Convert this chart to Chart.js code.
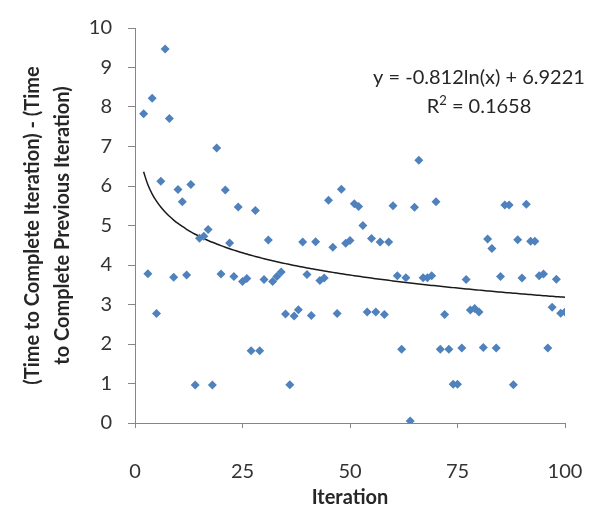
<!DOCTYPE html>
<html>
<head>
<meta charset="utf-8">
<title>Iteration time difference</title>
<script src="https://cdn.jsdelivr.net/npm/chart.js@4.4.1/dist/chart.umd.min.js"></script>
<style>
    html, body { margin: 0; padding: 0; background: #fff; }
    #wrap { width: 602px; height: 521px; }
</style>
</head>
<body>
<div id="wrap"><canvas id="chart" width="602" height="521"></canvas></div>
<script>
// Data
const iterations = [
    2, 3, 4, 5, 6, 7, 8, 9, 10, 11, 12, 13, 14, 15, 16, 17, 18, 19, 20, 21,
    22, 23, 24, 25, 26, 27, 28, 29, 30, 31, 32, 33, 34, 35, 36, 37, 38, 39, 40, 41,
    42, 43, 44, 45, 46, 47, 48, 49, 50, 51, 52, 53, 54, 55, 56, 57, 58, 59, 60, 61,
    62, 63, 64, 65, 66, 67, 68, 69, 70, 71, 72, 73, 74, 75, 76, 77, 78, 79, 80, 81,
    82, 83, 84, 85, 86, 87, 88, 89, 90, 91, 92, 93, 94, 95, 96, 97, 98, 99, 100
];
const timeDiff = [
    7.83, 3.78, 8.22, 2.77, 6.12, 9.47, 7.71, 3.69, 5.91, 5.60, 3.75, 6.04, 0.96, 4.68, 4.73, 4.90, 0.96, 6.96, 3.77, 5.90,
    4.56, 3.71, 5.47, 3.58, 3.66, 1.83, 5.38, 1.83, 3.63, 4.63, 3.58, 3.71, 3.82, 2.76, 0.97, 2.71, 2.87, 4.58, 3.76, 2.72,
    4.59, 3.61, 3.67, 5.64, 4.45, 2.77, 5.92, 4.55, 4.62, 5.55, 5.48, 5.00, 2.81, 4.67, 2.81, 4.58, 2.75, 4.58, 5.50, 3.73,
    1.87, 3.68, 0.05, 5.46, 6.65, 3.68, 3.68, 3.73, 5.60, 1.87, 2.75, 1.87, 0.98, 0.98, 1.90, 3.63, 2.86, 2.90, 2.81, 1.91,
    4.66, 4.42, 1.90, 3.71, 5.52, 5.52, 0.97, 4.64, 3.67, 5.54, 4.60, 4.60, 3.73, 3.77, 1.90, 2.93, 3.64, 2.78, 2.81
];
const xTicks = [0, 25, 50, 75, 100];
const yTicks = [0, 1, 2, 3, 4, 5, 6, 7, 8, 9, 10];

// Logarithmic trendline as printed on the chart
const trendA = -0.812;
const trendB = 6.9221;
const equationText = 'y = -0.812ln(x) + 6.9221';
const rSquaredParts = ['R', '2', ' = 0.1658'];

const points = iterations.map((x, i) => ({ x: x, y: timeDiff[i] }));
const trend = iterations.map(x => ({ x: x, y: trendA * Math.log(x) + trendB }));

const axisGrey = '#868686';
const fontFamily = 'Lato, "Open Sans", sans-serif';

// draws the trendline equation and R squared
const equationPlugin = {
    id: 'equation',
    afterDatasetsDraw(chart) {
        const ctx = chart.ctx;
        const x = chart.scales.x.getPixelForValue(80);
        const y = chart.scales.y.getPixelForValue(8.74);
        const big = '20px ' + fontFamily;
        const small = '13px ' + fontFamily;
        ctx.save();
        ctx.fillStyle = '#262626';
        ctx.textBaseline = 'middle';
        ctx.font = big;
        ctx.textAlign = 'center';
        ctx.fillText(equationText, x, y);

        // second line: R, superscript 2, rest
        const y2 = y + 29;
        const wR = ctx.measureText(rSquaredParts[0]).width;
        const wRest = ctx.measureText(rSquaredParts[2]).width;
        ctx.font = small;
        const w2 = ctx.measureText(rSquaredParts[1]).width;
        let left = x - (wR + w2 + wRest) / 2;
        ctx.textAlign = 'left';
        ctx.font = big;
        ctx.fillText(rSquaredParts[0], left, y2);
        left += wR;
        ctx.font = small;
        ctx.fillText(rSquaredParts[1], left, y2 - 6);
        left += w2;
        ctx.font = big;
        ctx.fillText(rSquaredParts[2], left, y2);
        ctx.restore();
    }
};

const ctx = document.getElementById('chart').getContext('2d');
const chart = new Chart(ctx, {
    type: 'scatter',
    data: {
        datasets: [{
            label: 'Time difference',
            data: points,
            pointStyle: 'rectRot',
            pointRadius: 4.5,
            pointHoverRadius: 4.5,
            backgroundColor: '#4F81BD',
            borderColor: '#4F81BD',
            borderWidth: 0
        }, {
            type: 'line',
            label: 'Log trend',
            data: trend,
            borderColor: '#1a1a1a',
            borderWidth: 1.5,
            pointRadius: 0,
            fill: false,
            tension: 0.4
        }]
    },
    options: {
        responsive: false,
        animation: false,
        layout: {
            padding: { left: 0, right: 37, top: 24, bottom: 8 }
        },
        plugins: {
            legend: { display: false },
            tooltip: { enabled: false }
        },
        scales: {
            x: {
                type: 'linear',
                min: 0,
                max: 100,
                afterBuildTicks: scale => { scale.ticks = xTicks.map(v => ({ value: v })); },
                afterFit: scale => {
                    scale.height = 90;
                    scale.paddingLeft = 0;
                    scale.paddingRight = 0;
                },
                grid: {
                    drawOnChartArea: false,
                    drawTicks: true,
                    tickLength: 5,
                    color: axisGrey
                },
                border: { display: true, color: axisGrey, width: 1 },
                ticks: {
                    padding: 32,
                    maxRotation: 0,
                    minRotation: 0,
                    autoSkip: false,
                    color: '#333333',
                    font: { family: fontFamily, size: 20 }
                },
                title: {
                    display: true,
                    text: 'Iteration',
                    color: '#262626',
                    padding: { top: 0, bottom: 0 },
                    font: { family: fontFamily, size: 20, weight: 'bold', lineHeight: 1.5 }
                }
            },
            y: {
                type: 'linear',
                min: 0,
                max: 10,
                afterBuildTicks: scale => { scale.ticks = yTicks.map(v => ({ value: v })); },
                afterFit: scale => { scale.width = 135; },
                grid: {
                    drawOnChartArea: false,
                    drawTicks: true,
                    tickLength: 7,
                    color: axisGrey
                },
                border: { display: true, color: axisGrey, width: 1 },
                ticks: {
                    padding: 16,
                    color: '#333333',
                    font: { family: fontFamily, size: 20 }
                },
                title: {
                    display: true,
                    text: ['(Time to Complete Iteration) - (Time', 'to Complete Previous Iteration)'],
                    color: '#262626',
                    padding: { top: 18, bottom: 0 },
                    font: { family: fontFamily, size: 20, weight: 'bold', lineHeight: 1.5 }
                }
            }
        }
    },
    plugins: [equationPlugin]
});
</script>
</body>
</html>
